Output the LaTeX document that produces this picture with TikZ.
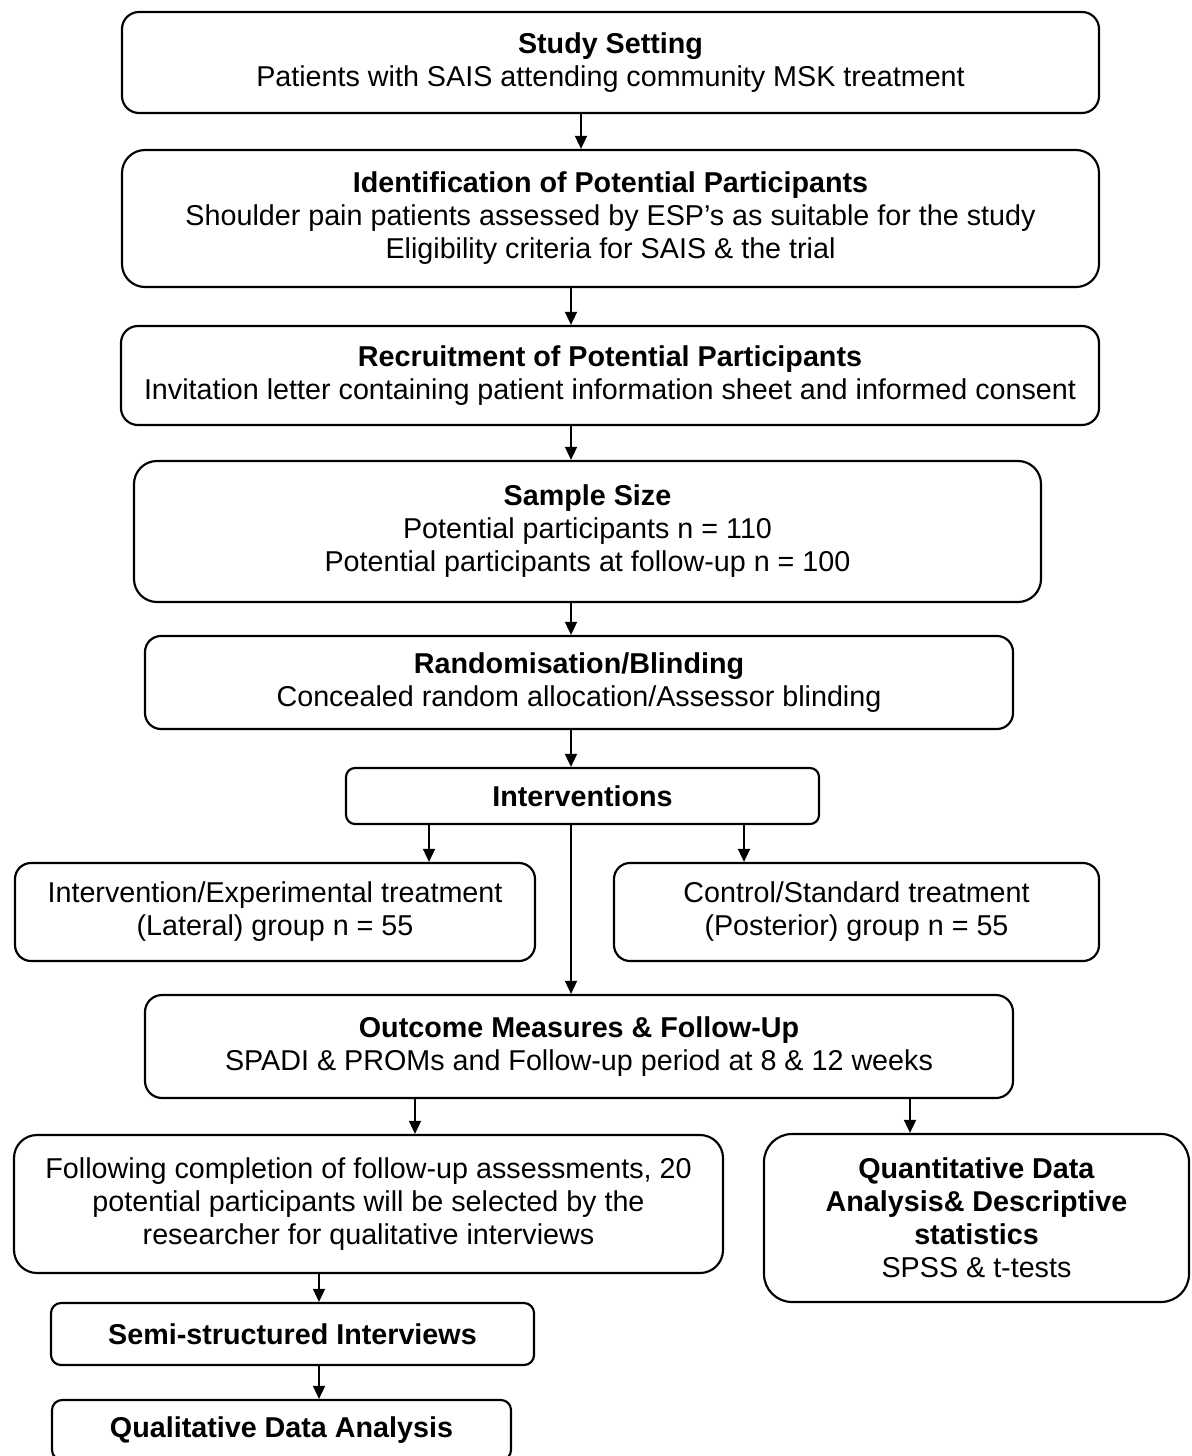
\documentclass[tikz,border=0pt]{standalone}
\usepackage{fontspec}
\setmainfont{Liberation Sans}
\usetikzlibrary{arrows.meta}
\newlength{\unitpx}\setlength{\unitpx}{0.418pt}

\begin{document}
\begin{tikzpicture}[
    x=\unitpx, y=-\unitpx,
    flow/.style={draw, line width=0.9pt, rounded corners=#1\unitpx, align=center, inner sep=2pt, font=\fontsize{12}{13.8}\selectfont},
    flow/.default=17,
    dims/.style 2 args={minimum width=#1\unitpx, minimum height=#2\unitpx},
    arrow/.style={-{Triangle[length=5.5pt,width=5pt]}, line width=0.9pt}
]
    \useasboundingbox (0,0) rectangle (1191,1456);

    % Main column
    \node[flow=17, dims={977}{101}] (setting) at (610.5,62.5) {\textbf{Study Setting}\\Patients with SAIS attending community MSK treatment};
    \node[flow=23, dims={977}{137}] (ident) at (610.5,218.5) {\textbf{Identification of Potential Participants}\\Shoulder pain patients assessed by ESP’s as suitable for the study\\Eligibility criteria for SAIS \& the trial};
    \node[flow=17, dims={978}{99}] (recruit) at (610,375.5) {\textbf{Recruitment of Potential Participants}\\Invitation letter containing patient information sheet and informed consent};
    \node[flow=23, dims={907}{141}] (sample) at (587.5,531.5) {\textbf{Sample Size}\\Potential participants n = 110\\Potential participants at follow-up n = 100};
    \node[flow=16, dims={868}{93}] (random) at (579,682.5) {\textbf{Randomisation/Blinding}\\Concealed random allocation/Assessor blinding};
    \node[flow=9, dims={473}{56}] (interv) at (582.5,796) {\textbf{Interventions}};

    % Treatment groups
    \node[flow=16, dims={520}{98}] (lateral) at (275,912) {Intervention/Experimental treatment\\(Lateral) group n = 55};
    \node[flow=16, dims={485}{98}] (posterior) at (856.5,912) {Control/Standard treatment\\(Posterior) group n = 55};

    \node[flow=17, dims={868}{103}] (outcome) at (579,1046.5) {\textbf{Outcome Measures \& Follow-Up}\\SPADI \& PROMs and Follow-up period at 8 \& 12 weeks};

    % Analysis branches
    \node[flow=23, dims={709}{138}] (select) at (368.5,1204) {Following completion of follow-up assessments, 20\\potential participants will be selected by the\\researcher for qualitative interviews};
    \node[flow=28, dims={425}{168}] (quant) at (976.5,1218) {\textbf{Quantitative Data}\\\textbf{Analysis\& Descriptive}\\\textbf{statistics}\\SPSS \& t-tests};
    \node[flow=10, dims={483}{62}] (semi) at (292.5,1334) {\textbf{Semi-structured Interviews}};
    \node[flow=10, dims={459}{60}] (qual) at (281.5,1430) {\textbf{Qualitative Data Analysis}};

    % Arrow columns
    \coordinate (xa) at (581,0);
    \coordinate (xb) at (571,0);
    \coordinate (xc) at (429,0);
    \coordinate (xd) at (744,0);
    \coordinate (xe) at (415,0);
    \coordinate (xf) at (910,0);
    \coordinate (xg) at (319,0);

    \draw[arrow] (setting.south -| xa) -- (ident.north -| xa);
    \draw[arrow] (ident.south -| xb) -- (recruit.north -| xb);
    \draw[arrow] (recruit.south -| xb) -- (sample.north -| xb);
    \draw[arrow] (sample.south -| xb) -- (random.north -| xb);
    \draw[arrow] (random.south -| xb) -- (interv.north -| xb);
    \draw[arrow] (interv.south -| xc) -- (lateral.north -| xc);
    \draw[arrow] (interv.south -| xd) -- (posterior.north -| xd);
    \draw[arrow] (interv.south -| xb) -- (outcome.north -| xb);
    \draw[arrow] (outcome.south -| xe) -- (select.north -| xe);
    \draw[arrow] (outcome.south -| xf) -- (quant.north -| xf);
    \draw[arrow] (select.south -| xg) -- (semi.north -| xg);
    \draw[arrow] (semi.south -| xg) -- (qual.north -| xg);
\end{tikzpicture}
\end{document}
